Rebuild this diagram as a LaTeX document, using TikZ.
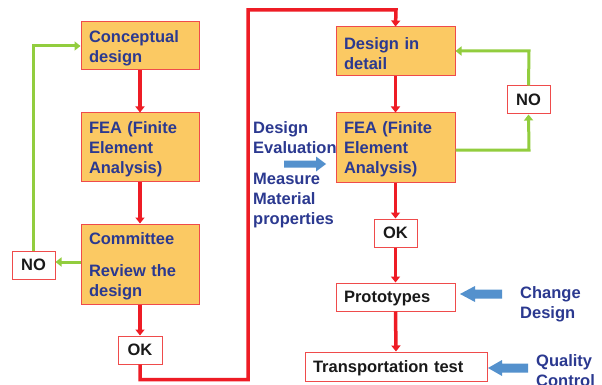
\documentclass[tikz,border=0pt]{standalone}
\usepackage{fontspec}
\setmainfont{Liberation Sans}
\usetikzlibrary{arrows.meta}
\definecolor{boxfill}{HTML}{FBC963}
\definecolor{boxline}{HTML}{EF4B4B}
\definecolor{redline}{HTML}{EE1C25}
\definecolor{greenline}{HTML}{92CD3E}
\definecolor{bluetext}{HTML}{2B3990}
\definecolor{bluearrow}{HTML}{5491CD}
\newcommand{\tstrut}{\rule{0pt}{16pt}}
\tikzset{
  txt/.style={font=\fontsize{16.5}{20}\selectfont\bfseries},
  stage/.style={txt, draw=boxline, line width=1pt, fill=boxfill, text=bluetext,
    align=left, inner xsep=8pt, inner ysep=0pt},
  plain/.style={txt, text depth=0pt, draw=boxline, line width=1pt, fill=white, text=black!90,
    inner sep=0pt},
  redflow/.style={draw=redline, line width=3.5pt, -{Triangle[width=9pt,length=6pt]}},
  greenflow/.style={draw=greenline, line width=3pt, -{Triangle[width=9pt,length=6pt]}},
  bluelabel/.style={txt, text depth=0pt, text=bluetext, align=left, inner sep=0pt, anchor=west},
}
\begin{document}
\begin{tikzpicture}[x=1pt,y=-1pt]
\useasboundingbox (0,0) rectangle (602,385);
\fill[white] (0,0) rectangle (602,385);

% left column
\node[stage, minimum width=118pt, minimum height=48pt, text width=102pt] (cd) at (140,46) {\tstrut Conceptual\\design};
\node[stage, minimum width=118pt, minimum height=68pt, text width=102pt] (fea1) at (140,147) {\tstrut FEA (Finite\\Element\\Analysis)};
\node[stage, minimum width=118pt, minimum height=80pt, text width=102pt] (com) at (140,264) {\tstrut Committee\\[12pt]Review the\\design};
\node[plain, minimum width=43pt, minimum height=28pt] (no1) at (33.5,265) {NO};
\node[plain, minimum width=44pt, minimum height=28pt] (ok1) at (140,350) {OK};

% right column
\node[stage, minimum width=119pt, minimum height=49pt, text width=103pt] (did) at (395.5,51.5) {\tstrut Design in\\detail};
\node[stage, minimum width=119pt, minimum height=69pt, text width=103pt] (fea2) at (395.5,147.5) {\tstrut FEA (Finite\\Element\\Analysis)};
\node[plain, minimum width=43pt, minimum height=28pt] (no2) at (528.5,100) {NO};
\node[plain, minimum width=43pt, minimum height=28pt] (ok2) at (395.5,233) {OK};
\node[plain, minimum width=119pt, minimum height=28pt, align=left, text width=103pt, inner xsep=8pt] (proto) at (395.5,297) {Prototypes};
\node[plain, minimum width=182pt, minimum height=29pt, align=left, text width=166pt, inner xsep=8pt] (tt) at (396,366.5) {Transportation test};

% red flow
\draw[redflow] (cd.south) -- (fea1.north);
\draw[redflow] (fea1.south) -- (com.north);
\draw[redflow] (com.south) -- (ok1.north);
\coordinate (r1) at (140,379.5);
\coordinate (r2) at (248,379.5);
\coordinate (r3) at (248,10);
\coordinate (r4) at (396,10);
\draw[redflow] (ok1.south) -- (r1) -- (r2) -- (r3) -- (r4) -- (did.north);
\draw[redflow] (did.south) -- (fea2.north);
\draw[redflow] (fea2.south) -- (ok2.north);
\draw[redflow] (ok2.south) -- (proto.north);
\draw[redflow] (proto.south) -- (tt.north);

% green loops
\draw[greenflow] (com.west |- 0,262) -- (no1.east |- 0,262);
\coordinate (g1) at (33,46);
\draw[greenflow] (no1.north -| g1) -- (g1) -- (cd.west);
\coordinate (g2) at (529,150);
\coordinate (g3) at (529,51);
\draw[greenflow] (fea2.east |- g2) -- (g2) -- (no2.south);
\draw[greenflow] (no2.north) -- (g3) -- (did.east |- g3);

% blue arrows
\fill[bluearrow] (284,160.5) -- (316,160.5) -- (316,156.5) -- (326,164) -- (316,171.5) -- (316,167.5) -- (284,167.5) -- cycle;
\fill[bluearrow] (502,289.5) -- (475,289.5) -- (475,286) -- (460,294) -- (475,302) -- (475,298.5) -- (502,298.5) -- cycle;
\fill[bluearrow] (528,363.5) -- (502,363.5) -- (502,360) -- (488,368) -- (502,376) -- (502,372.5) -- (528,372.5) -- cycle;

% blue labels
\node[bluelabel] (eval) at (253,173.5) {Design\\Evaluation\\[11pt]Measure\\Material\\properties};
\node[bluelabel] (chg) at (520,303) {Change\\Design};
\node[bluelabel] (qc) at (536,371) {Quality\\Control};
\end{tikzpicture}
\end{document}
